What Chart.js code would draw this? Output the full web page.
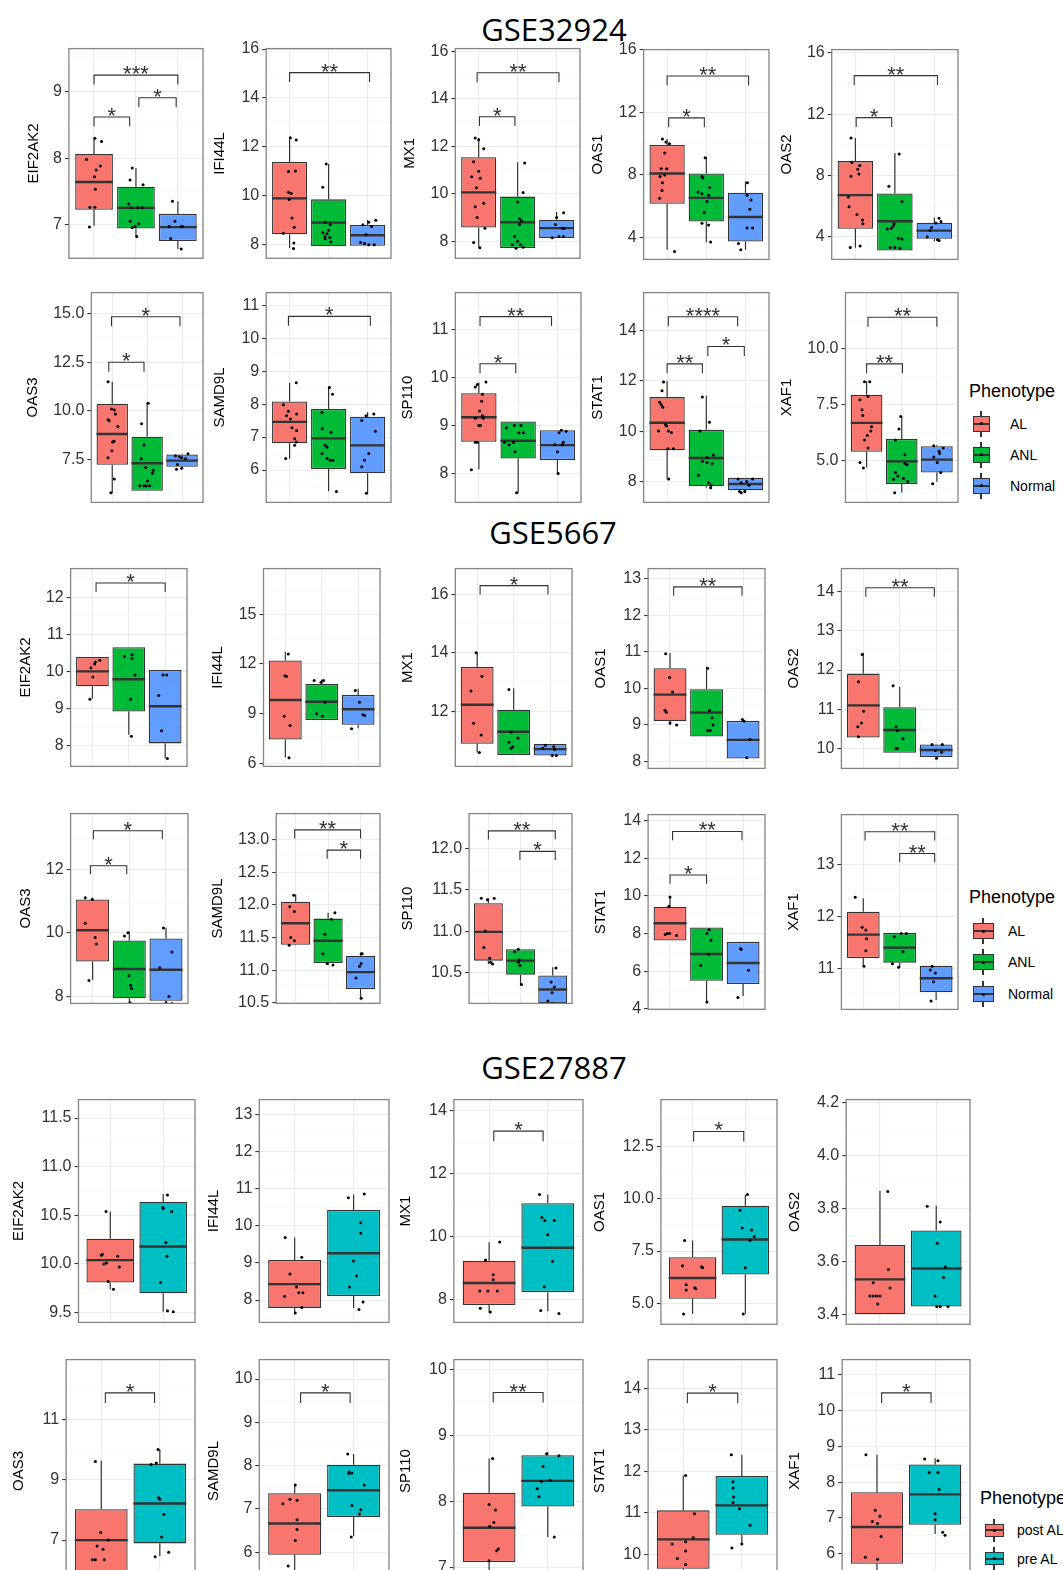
<!DOCTYPE html>
<html>
<head>
<meta charset="utf-8">
<script src="https://cdn.jsdelivr.net/npm/chart.js@4.4.1/dist/chart.umd.min.js"></script>
<style>
html, body { margin: 0; padding: 0; background: #fff; overflow: hidden; }
body { width: 1063px; height: 1570px; position: relative; font-family: "Liberation Sans", Arial, sans-serif; }
.panel { position: absolute; }
.panel canvas { display: block; }
.sec-title { position: absolute; font-family: "Open Sans", sans-serif; font-size: 31px; color: #000; transform: translate(-50%, -50%); white-space: nowrap; line-height: 1; }
.leg-title { position: absolute; font-size: 18px; color: #000; transform: translateY(-50%); white-space: nowrap; line-height: 1; }
.leg-label { position: absolute; font-size: 14px; color: #000; transform: translateY(-50%); white-space: nowrap; line-height: 1; }
.key { position: absolute; }
.key .wh { position: absolute; left: 50%; top: 0; bottom: 0; width: 1.2px; margin-left: -0.6px; background: #333; }
.key .bx { position: absolute; left: 0; right: 0; box-sizing: border-box; border: 1.2px solid #333; }
.key .md { position: absolute; left: 0; right: 0; height: 2px; margin-top: -1px; background: #333; }
.key .dt { position: absolute; left: 50%; width: 3px; height: 3px; margin: -1.5px 0 0 -1.5px; border-radius: 50%; background: #000; }
</style>
</head>
<body>
<script>
// ---------- GSE32924 ----------
const groups32924 = ['AL', 'ANL', 'Normal'];
const genes32924 = ['EIF2AK2', 'IFI44L', 'MX1', 'OAS1', 'OAS2', 'OAS3', 'SAMD9L', 'SP110', 'STAT1', 'XAF1'];
const ticks32924 = [
  ['7', '8', '9'], ['8', '10', '12', '14', '16'], ['8', '10', '12', '14', '16'], ['4', '8', '12', '16'], ['4', '8', '12', '16'],
  ['7.5', '10.0', '12.5', '15.0'], ['6', '7', '8', '9', '10', '11'], ['8', '9', '10', '11'], ['8', '10', '12', '14'], ['5.0', '7.5', '10.0']
];
const ranges32924 = [
  [6.49, 9.65], [7.45, 16.02], [7.28, 16.12], [2.59, 16.02], [2.52, 16.22],
  [5.3, 16.09], [5.02, 11.38], [7.4, 11.76], [7.17, 15.5], [3.12, 12.48]
];
// [lower whisker, Q1, median, Q3, upper whisker] per group
const boxes32924 = [
  [[6.98, 7.22, 7.64, 8.06, 8.30], [6.81, 6.94, 7.25, 7.57, 7.85], [6.63, 6.75, 6.96, 7.16, 7.35]],
  [[7.87, 8.43, 9.90, 11.39, 12.38], [7.94, 7.94, 8.91, 9.86, 11.30], [7.96, 7.96, 8.39, 8.81, 9.02]],
  [[7.74, 8.58, 10.06, 11.54, 12.35], [7.71, 7.71, 8.80, 9.88, 11.33], [8.14, 8.14, 8.55, 8.91, 9.23]],
  [[3.21, 6.15, 8.09, 9.91, 10.29], [3.69, 5.01, 6.53, 8.09, 9.14], [3.21, 3.74, 5.30, 6.86, 7.60]],
  [[3.28, 4.52, 6.72, 8.94, 10.45], [3.10, 3.10, 5.01, 6.83, 9.46], [3.71, 3.87, 4.40, 4.92, 5.26]],
  [[5.77, 7.24, 8.82, 10.37, 11.50], [5.90, 5.90, 7.31, 8.68, 10.45], [7.05, 7.13, 7.45, 7.76, 7.80]],
  [[6.34, 6.81, 7.46, 8.08, 8.65], [5.36, 6.03, 6.96, 7.85, 8.53], [5.30, 5.90, 6.75, 7.62, 7.75]],
  [[8.09, 8.66, 9.17, 9.67, 9.89], [7.59, 8.31, 8.68, 9.08, 9.08], [7.97, 8.28, 8.59, 8.90, 8.90]],
  [[8.08, 9.24, 10.33, 11.35, 11.99], [7.75, 7.81, 8.93, 10.05, 11.41], [7.55, 7.65, 7.90, 8.15, 8.15]],
  [[4.68, 5.38, 6.67, 7.92, 8.53], [3.56, 3.94, 4.95, 5.95, 6.97], [4.04, 4.45, 5.03, 5.63, 5.68]]
];
// jittered samples: [offset from group centre, value]
const points32924 = [
  [[[0.02, 8.30], [0.18, 8.25], [-0.18, 7.98], [0.15, 7.88], [0.05, 7.82], [0.01, 7.72], [0.03, 7.53], [-0.10, 7.26], [0.02, 7.26], [-0.11, 6.96]],
   [[-0.09, 7.85], [-0.14, 7.67], [0.17, 7.60], [-0.17, 7.31], [-0.11, 7.25], [0.04, 7.25], [0.15, 7.25], [-0.14, 7.05], [0.07, 7.01], [-0.02, 6.97], [-0.09, 6.95], [0.02, 6.82]],
   [[-0.13, 7.35], [-0.07, 7.05], [-0.21, 6.97], [0.08, 6.97], [0.11, 6.97], [-0.17, 6.79], [0.08, 6.63]]],
  [[[0.02, 12.38], [0.17, 12.28], [-0.03, 11.0], [0.15, 11.02], [-0.03, 10.15], [0.04, 10.1], [-0.01, 9.85], [0.06, 9.1], [0.12, 8.72], [-0.16, 8.47], [0.11, 8.08], [0.10, 7.85]],
   [[-0.06, 11.3], [-0.15, 10.35], [-0.09, 8.92], [0.04, 8.82], [0.0, 8.6], [-0.15, 8.5], [-0.04, 8.45], [-0.10, 8.35], [0.03, 8.3], [-0.09, 8.25], [0.06, 8.12]],
   [[0.21, 9.0], [0.03, 8.92], [-0.12, 8.82], [0.10, 8.75], [-0.04, 8.42], [-0.18, 8.1], [-0.08, 8.05], [0.03, 8.0], [0.17, 8.0]]],
  [[[-0.09, 12.35], [0.0, 12.28], [0.13, 11.9], [-0.13, 11.35], [0.0, 10.95], [-0.18, 10.72], [0.04, 10.65], [-0.06, 10.25], [0.13, 9.6], [-0.09, 9.45], [-0.04, 9.0], [0.16, 8.55], [-0.13, 7.95], [0.03, 7.72]],
   [[0.18, 11.3], [0.14, 10.05], [0.0, 9.65], [0.05, 8.95], [0.10, 8.85], [0.05, 8.7], [-0.08, 8.2], [0.0, 8.0], [-0.14, 7.85], [0.07, 7.85], [0.14, 7.75], [-0.04, 7.7]],
   [[0.18, 9.2], [0.0, 9.0], [-0.03, 8.7], [0.15, 8.55], [0.19, 8.55], [-0.11, 8.15], [0.06, 8.2], [0.18, 8.2]]],
  [[[-0.12, 10.3], [-0.03, 10.1], [0.06, 10.0], [-0.06, 9.4], [-0.15, 8.4], [-0.01, 8.4], [-0.06, 8.0], [-0.18, 7.9], [-0.12, 7.5], [-0.13, 7.0], [-0.19, 6.5], [0.19, 3.1]],
   [[-0.03, 9.1], [-0.11, 7.9], [-0.09, 7.8], [0.09, 7.2], [-0.21, 6.9], [-0.11, 6.8], [0.06, 6.7], [0.02, 6.3], [-0.05, 5.6], [-0.11, 4.9], [0.06, 4.8], [0.11, 3.7]],
   [[0.05, 7.5], [0.04, 6.7], [0.14, 6.4], [0.11, 5.8], [0.04, 4.6], [0.18, 4.6], [-0.18, 3.6], [-0.12, 3.2]]],
  [[[-0.11, 10.45], [-0.09, 8.85], [0.11, 8.65], [0.06, 8.4], [0.09, 8.1], [-0.11, 7.95], [-0.18, 6.6], [-0.16, 5.95], [0.04, 5.45], [0.18, 5.1], [0.19, 4.85], [0.12, 3.4], [-0.13, 3.3]],
   [[0.11, 9.4], [-0.15, 7.3], [0.18, 6.3], [-0.02, 4.85], [-0.04, 4.7], [-0.09, 4.55], [-0.19, 4.5], [0.09, 3.9], [0.18, 3.85], [-0.12, 3.3], [0.0, 3.3], [0.13, 3.25]],
   [[0.12, 5.2], [0.17, 5.0], [-0.07, 4.6], [-0.11, 4.4], [-0.18, 4.0], [0.08, 3.8], [0.12, 3.75], [0.04, 4.9]]],
  [[[-0.12, 11.5], [-0.02, 10.1], [0.06, 10.05], [0.09, 9.85], [-0.12, 9.55], [-0.09, 9.5], [0.16, 9.2], [0.05, 8.45], [0.01, 8.4], [-0.01, 7.95], [-0.12, 7.6], [0.06, 6.5], [-0.04, 5.8]],
   [[0.03, 10.4], [-0.16, 9.35], [-0.09, 8.25], [-0.17, 7.55], [-0.04, 7.1], [0.17, 6.95], [0.15, 6.8], [0.01, 6.4], [-0.21, 6.15], [-0.09, 6.15], [0.07, 6.15], [-0.03, 6.15]],
   [[0.17, 7.8], [-0.19, 7.7], [-0.08, 7.65], [-0.01, 7.6], [0.10, 7.55], [-0.13, 7.25], [-0.01, 7.05], [-0.16, 7.0]]],
  [[[0.17, 8.65], [-0.16, 7.98], [-0.03, 7.78], [0.18, 7.7], [-0.08, 7.65], [0.02, 7.55], [0.06, 7.28], [0.18, 7.2], [0.13, 6.95], [0.17, 6.85], [0.13, 6.75], [-0.10, 6.35]],
   [[0.02, 8.5], [0.10, 8.3], [-0.17, 7.75], [-0.16, 7.25], [0.06, 7.15], [-0.09, 6.75], [-0.04, 6.7], [-0.17, 6.5], [-0.04, 6.35], [0.04, 6.3], [0.11, 6.3], [0.20, 5.35]],
   [[0.16, 7.7], [-0.04, 7.65], [-0.15, 7.5], [0.20, 7.18], [0.03, 6.5], [-0.08, 6.3], [-0.15, 6.1], [-0.03, 5.3]]],
  [[[0.18, 9.9], [-0.04, 9.85], [-0.09, 9.8], [0.09, 9.65], [0.07, 9.5], [0.02, 9.3], [0.09, 9.2], [-0.09, 9.15], [0.11, 9.15], [0.0, 9.0], [0.04, 9.0], [-0.04, 8.65], [-0.09, 8.65], [-0.19, 8.08]],
   [[-0.10, 9.0], [0.07, 9.0], [-0.30, 8.95], [0.02, 8.85], [0.14, 8.85], [-0.35, 8.65], [-0.12, 8.65], [-0.23, 8.6], [-0.08, 8.45], [-0.04, 7.6]],
   [[0.10, 8.9], [0.22, 8.88], [0.04, 8.85], [0.15, 8.65], [-0.07, 8.6], [0.12, 8.6], [0.0, 8.45], [0.02, 8.0]]],
  [[[-0.09, 11.95], [-0.13, 11.6], [-0.19, 11.15], [-0.15, 11.05], [-0.11, 10.95], [-0.04, 10.25], [-0.01, 10.2], [-0.22, 10.0], [0.03, 10.0], [0.11, 9.95], [0.02, 9.3], [0.16, 9.3], [0.04, 8.1]],
   [[-0.10, 11.35], [0.08, 10.35], [-0.16, 10.0], [0.18, 9.05], [0.02, 8.95], [0.02, 8.75], [0.15, 8.7], [-0.10, 8.8], [-0.20, 8.25], [0.06, 7.95], [0.12, 7.85], [0.11, 7.75]],
   [[-0.19, 8.1], [0.18, 8.1], [0.03, 8.0], [-0.11, 7.95], [0.09, 7.85], [-0.15, 7.6], [-0.11, 7.55], [-0.02, 7.6]]],
  [[[-0.06, 8.5], [0.09, 8.5], [0.04, 7.85], [-0.19, 7.7], [-0.13, 7.25], [-0.11, 7.0], [0.14, 6.5], [0.12, 6.3], [0.02, 6.1], [-0.06, 5.9], [0.04, 5.55], [-0.19, 4.9], [-0.09, 4.65]],
   [[-0.03, 6.95], [-0.08, 6.4], [-0.18, 5.9], [0.09, 5.25], [0.09, 4.85], [0.15, 4.8], [-0.18, 4.45], [-0.11, 4.3], [0.05, 4.2], [-0.23, 4.15], [0.17, 4.05], [-0.20, 3.55]],
   [[-0.09, 5.65], [0.18, 5.55], [0.06, 5.4], [0.08, 5.3], [-0.09, 5.15], [0.01, 4.9], [0.11, 4.45], [-0.12, 3.95]]]
];
// significance brackets: [from group, to group, height, label]
const signif32924 = [
  [[1, 3, 9.25, '***'], [1, 1.85, 8.62, '*'], [2.07, 2.96, 8.91, '*']],
  [[1, 3.05, 15.04, '**']],
  [[0.96, 3.06, 15.1, '**'], [1.02, 1.93, 13.25, '*']],
  [[1, 3.08, 14.33, '**'], [1.04, 1.95, 11.65, '*']],
  [[0.97, 3.08, 14.52, '**'], [1.02, 1.92, 11.78, '*']],
  [[0.98, 2.94, 14.85, '*'], [0.9, 1.91, 12.51, '*']],
  [[0.97, 3.07, 10.66, '*']],
  [[1.03, 2.85, 11.26, '**'], [1.03, 1.94, 10.28, '*']],
  [[1.03, 2.8, 14.54, '****'], [1.0, 1.9, 12.67, '**'], [2.04, 2.97, 13.36, '*']],
  [[1.04, 3.0, 11.38, '**'], [1.0, 2.02, 9.3, '**']]
];

// ---------- GSE5667 ----------
const groups5667 = ['AL', 'ANL', 'Normal'];
const genes5667 = ['EIF2AK2', 'IFI44L', 'MX1', 'OAS1', 'OAS2', 'OAS3', 'SAMD9L', 'SP110', 'STAT1', 'XAF1'];
const ticks5667 = [
  ['8', '9', '10', '11', '12'], ['6', '9', '12', '15'], ['12', '14', '16'], ['8', '9', '10', '11', '12', '13'], ['10', '11', '12', '13', '14'],
  ['8', '10', '12'], ['10.5', '11.0', '11.5', '12.0', '12.5', '13.0'], ['10.5', '11.0', '11.5', '12.0'], ['4', '6', '8', '10', '12', '14'], ['11', '12', '13']
];
const ranges5667 = [
  [7.44, 12.77], [5.83, 17.75], [10.13, 16.87], [7.81, 13.28], [9.49, 14.59],
  [7.78, 13.75], [10.49, 13.4], [10.12, 12.43], [3.96, 14.34], [10.22, 13.97]
];
const boxes5667 = [
  [[9.26, 9.6, 10.0, 10.39, 10.39], [8.29, 8.92, 9.79, 10.65, 10.65], [7.66, 8.06, 9.06, 10.04, 10.04]],
  [[6.37, 7.45, 9.83, 12.21, 12.73], [8.63, 8.63, 9.73, 10.8, 11.07], [8.13, 8.34, 9.27, 10.14, 10.51]],
  [[10.6, 10.9, 12.23, 13.52, 14.02], [10.52, 10.52, 11.31, 12.06, 12.79], [10.5, 10.5, 10.72, 10.89, 10.89]],
  [[9.0, 9.11, 9.83, 10.55, 10.97], [8.68, 8.68, 9.34, 9.98, 10.59], [8.08, 8.08, 8.59, 9.11, 9.15]],
  [[10.28, 10.28, 11.1, 11.91, 12.44], [9.89, 9.89, 10.47, 11.05, 11.57], [9.78, 9.78, 9.96, 10.1, 10.12]],
  [[8.52, 9.1, 10.08, 11.05, 11.1], [7.78, 7.94, 8.86, 9.76, 10.05], [7.78, 7.86, 8.84, 9.82, 10.16]],
  [[11.38, 11.39, 11.72, 12.05, 12.16], [11.08, 11.11, 11.45, 11.79, 11.88], [10.58, 10.71, 10.97, 11.22, 11.25]],
  [[10.6, 10.64, 10.99, 11.34, 11.4], [10.34, 10.47, 10.64, 10.78, 10.78], [10.12, 10.12, 10.29, 10.46, 10.56]],
  [[7.63, 7.63, 8.55, 9.43, 9.95], [4.41, 5.49, 6.91, 8.33, 8.33], [4.68, 5.31, 6.43, 7.56, 7.56]],
  [[11.06, 11.21, 11.66, 12.1, 12.36], [11.03, 11.12, 11.41, 11.69, 11.69], [10.4, 10.55, 10.82, 11.06, 11.06]]
];
const points5667 = [
  [[[0.20, 10.3], [0.08, 10.25], [0.06, 10.2], [-0.04, 10.1], [0.01, 9.85], [-0.07, 9.25]],
   [[0.09, 10.45], [-0.12, 10.4], [0.09, 10.35], [0.17, 9.9], [0.05, 9.25], [0.07, 8.25]],
   [[-0.06, 9.9], [0.04, 9.9], [-0.18, 9.35], [-0.10, 8.4], [0.06, 7.65]]],
  [[[0.08, 12.6], [-0.01, 11.3], [0.03, 11.25], [-0.03, 8.85], [0.13, 8.3], [0.10, 6.35]],
   [[-0.21, 11.0], [0.05, 11.0], [-0.02, 10.9], [0.09, 9.7], [-0.14, 9.0], [0.02, 8.85]],
   [[-0.08, 10.4], [0.04, 9.7], [0.13, 8.95], [0.18, 8.9], [-0.18, 8.1]]],
  [[[-0.03, 14.0], [0.13, 13.2], [-0.17, 12.7], [-0.10, 11.6], [0.11, 11.2], [0.06, 10.6]],
   [[-0.13, 12.75], [-0.07, 11.3], [0.12, 11.1], [-0.13, 10.95], [-0.02, 10.8], [-0.07, 10.75]],
   [[-0.13, 10.85], [0.10, 10.8], [-0.20, 10.75], [0.13, 10.7], [0.06, 10.5], [0.17, 10.5]]],
  [[[-0.12, 10.95], [-0.01, 10.3], [0.07, 9.9], [-0.14, 9.4], [-0.10, 9.35], [0.0, 9.05], [0.18, 9.0]],
   [[0.03, 10.55], [0.08, 9.4], [0.15, 9.2], [0.18, 9.0], [0.03, 8.85], [0.10, 8.85]],
   [[-0.02, 9.15], [0.03, 9.1], [0.19, 8.6], [0.10, 8.1]]],
  [[[-0.03, 12.4], [-0.13, 11.7], [0.01, 10.95], [-0.05, 10.65], [-0.15, 10.55], [-0.13, 10.3]],
   [[-0.18, 11.6], [-0.10, 10.55], [-0.06, 10.45], [0.09, 10.25], [-0.10, 10.0], [-0.06, 10.0]],
   [[-0.11, 10.1], [0.17, 10.1], [-0.02, 9.95], [0.15, 9.9], [0.01, 9.75]]],
  [[[-0.20, 11.1], [-0.01, 11.05], [-0.20, 10.3], [0.07, 9.85], [0.10, 9.65], [-0.10, 8.5]],
   [[-0.04, 10.0], [-0.13, 9.9], [-0.01, 8.65], [0.04, 8.35], [0.06, 8.25], [0.02, 7.8]],
   [[-0.07, 10.15], [0.16, 9.4], [-0.17, 8.9], [0.08, 8.0], [0.0, 7.8], [0.16, 7.78]]],
  [[[-0.06, 12.15], [-0.18, 11.97], [-0.04, 11.9], [-0.15, 11.5], [-0.04, 11.45], [-0.20, 11.38]],
   [[0.21, 11.88], [0.10, 11.78], [-0.10, 11.55], [-0.16, 11.25], [-0.03, 11.1], [0.15, 11.08]],
   [[0.02, 11.25], [0.05, 11.25], [0.02, 11.1], [-0.03, 11.06], [-0.14, 10.88], [0.02, 10.57]]],
  [[[-0.22, 11.4], [0.18, 11.4], [-0.03, 11.38], [-0.10, 11.0], [-0.14, 10.8], [0.04, 10.67], [0.07, 10.62], [0.13, 10.6]],
   [[-0.07, 10.78], [-0.18, 10.75], [-0.04, 10.65], [-0.07, 10.62], [-0.02, 10.58], [0.03, 10.35]],
   [[0.10, 10.55], [-0.05, 10.38], [0.05, 10.32], [-0.02, 10.25], [-0.15, 10.15], [0.0, 10.12]]],
  [[[0.0, 9.95], [-0.03, 9.45], [-0.08, 8.0], [-0.01, 8.0], [-0.13, 7.95], [0.18, 7.9]],
   [[0.07, 8.2], [0.01, 8.0], [0.12, 7.65], [0.06, 6.9], [-0.16, 6.3], [0.01, 4.35]],
   [[-0.07, 7.2], [-0.05, 7.15], [0.15, 6.05], [-0.14, 4.6]]],
  [[[-0.22, 12.38], [-0.03, 11.8], [0.07, 11.75], [0.09, 11.58], [0.07, 11.35], [0.02, 11.05]],
   [[0.04, 11.68], [0.18, 11.68], [-0.15, 11.62], [0.09, 11.33], [-0.20, 11.1], [-0.03, 11.03]],
   [[-0.11, 11.05], [-0.16, 10.98], [-0.02, 10.92], [-0.07, 10.75], [-0.14, 10.38]]]
];
const signif5667 = [
  [[1.1, 3.0, 12.38, '*']],
  [],
  [[1.08, 2.94, 16.29, '*']],
  [[1.1, 2.97, 12.78, '**']],
  [[1.07, 2.95, 14.1, '**']],
  [[1.02, 2.9, 13.21, '*'], [0.94, 1.93, 12.11, '*']],
  [[0.97, 3.0, 13.15, '**'], [1.97, 3.0, 12.84, '*']],
  [[1.0, 3.08, 12.22, '**'], [1.98, 3.08, 11.97, '*']],
  [[1.07, 2.97, 13.44, '**'], [1.0, 2.0, 11.12, '*']],
  [[1.05, 2.96, 13.64, '**'], [2.0, 2.96, 13.22, '**']]
];

// ---------- GSE27887 ----------
const groups27887 = ['post AL', 'pre AL'];
const genes27887 = ['EIF2AK2', 'IFI44L', 'MX1', 'OAS1', 'OAS2', 'OAS3', 'SAMD9L', 'SP110', 'STAT1', 'XAF1'];
const ticks27887 = [
  ['9.5', '10.0', '10.5', '11.0', '11.5'], ['8', '9', '10', '11', '12', '13'], ['8', '10', '12', '14'], ['5.0', '7.5', '10.0', '12.5'], ['3.4', '3.6', '3.8', '4.0', '4.2'],
  ['7', '9', '11'], ['6', '7', '8', '9', '10'], ['7', '8', '9', '10'], ['10', '11', '12', '13', '14'], ['6', '7', '8', '9', '10', '11']
];
const ranges27887 = [
  [9.4, 11.69], [7.4, 13.39], [7.27, 14.34], [4.01, 14.72], [3.363, 4.213],
  [5.6, 12.97], [5.3, 10.45], [6.77, 10.15], [9.32, 14.7], [5.2, 11.43]
];
const boxes27887 = [
  [[9.74, 9.81, 10.04, 10.26, 10.54], [9.51, 9.7, 10.18, 10.64, 10.72]],
  [[7.66, 7.79, 8.43, 9.08, 9.68], [7.79, 8.11, 9.26, 10.42, 10.84]],
  [[7.58, 7.82, 8.52, 9.23, 9.81], [7.62, 8.23, 9.64, 11.05, 11.33]],
  [[4.51, 5.23, 6.22, 7.21, 8.01], [4.51, 6.38, 8.05, 9.66, 10.19]],
  [[3.4, 3.401, 3.533, 3.663, 3.867], [3.43, 3.43, 3.574, 3.718, 3.812]],
  [[5.5, 5.92, 7.0, 8.02, 9.63], [6.47, 6.89, 8.21, 9.53, 10.0]],
  [[5.52, 5.94, 6.66, 7.36, 7.56], [6.37, 6.81, 7.43, 8.02, 8.27]],
  [[6.87, 7.08, 7.6, 8.13, 8.65], [7.46, 7.92, 8.31, 8.7, 8.75]],
  [[9.53, 9.65, 10.36, 11.06, 11.9], [10.27, 10.47, 11.18, 11.89, 12.4]],
  [[5.44, 5.72, 6.75, 7.72, 8.77], [6.55, 6.81, 7.66, 8.5, 8.67]]
];
const points27887 = [
  [[[-0.08, 10.54], [-0.15, 10.1], [-0.17, 10.09], [0.14, 10.08], [-0.07, 10.01], [-0.12, 10.0], [0.17, 9.97], [-0.04, 9.82], [0.06, 9.74]],
   [[0.08, 10.71], [-0.01, 10.58], [0.0, 10.57], [0.16, 10.54], [0.05, 10.22], [0.07, 10.08], [-0.05, 9.81], [0.08, 9.52], [0.19, 9.51]]],
  [[[-0.16, 9.68], [0.12, 9.15], [-0.08, 8.7], [0.03, 8.35], [0.07, 8.2], [0.14, 8.2], [-0.17, 8.1], [0.12, 7.8], [0.01, 7.65]],
   [[0.18, 10.85], [-0.09, 10.75], [0.12, 10.08], [0.12, 9.8], [0.0, 9.05], [0.05, 8.65], [-0.07, 8.35], [0.16, 7.95], [0.09, 7.75]]],
  [[[0.18, 9.82], [-0.06, 9.25], [0.07, 8.78], [0.07, 8.62], [-0.16, 8.27], [-0.02, 8.27], [0.14, 8.27], [-0.15, 7.72], [0.02, 7.6]],
   [[-0.14, 11.33], [-0.10, 10.6], [-0.05, 10.5], [0.11, 10.5], [0.0, 10.05], [0.08, 9.2], [-0.06, 8.4], [-0.12, 7.65], [0.19, 7.55]]],
  [[[-0.15, 8.0], [-0.19, 6.8], [0.17, 6.75], [0.19, 6.7], [-0.12, 5.9], [0.04, 5.75], [0.06, 5.7], [-0.12, 5.65], [-0.17, 4.5]],
   [[0.04, 10.2], [-0.10, 9.45], [-0.06, 8.6], [0.12, 8.5], [0.17, 8.2], [0.09, 8.0], [0.0, 6.7], [-0.04, 4.5]]],
  [[[0.14, 3.865], [0.15, 3.57], [-0.12, 3.52], [0.18, 3.5], [-0.18, 3.47], [-0.12, 3.47], [-0.06, 3.47], [0.0, 3.47], [-0.04, 3.44]],
   [[-0.16, 3.81], [0.07, 3.75], [0.02, 3.67], [0.16, 3.58], [0.13, 3.54], [-0.02, 3.47], [0.01, 3.43], [0.07, 3.43], [0.21, 3.43]]],
  [[[-0.10, 9.6], [-0.01, 7.25], [0.12, 7.0], [-0.07, 6.8], [0.03, 6.7], [-0.15, 6.35], [-0.10, 6.35], [0.05, 6.35]],
   [[-0.03, 10.0], [-0.06, 9.55], [-0.15, 9.5], [-0.02, 8.4], [0.0, 8.35], [0.07, 7.85], [0.03, 7.1], [0.15, 6.6], [-0.08, 6.45]]],
  [[[0.01, 7.55], [-0.08, 7.22], [0.04, 7.2], [-0.20, 7.12], [0.04, 6.75], [0.04, 6.52], [0.01, 6.27], [-0.11, 5.68], [0.0, 5.5]],
   [[-0.10, 8.27], [-0.08, 7.85], [-0.03, 7.83], [-0.08, 7.82], [0.18, 7.55], [-0.03, 7.08], [0.12, 6.98], [0.10, 6.88], [-0.04, 6.35]]],
  [[[0.06, 8.65], [0.0, 7.95], [0.11, 7.87], [0.08, 7.68], [0.01, 7.62], [0.16, 7.28], [0.13, 7.25], [0.0, 7.1], [-0.16, 6.93]],
   [[-0.02, 8.72], [0.19, 8.69], [-0.08, 8.53], [-0.11, 8.3], [-0.18, 8.19], [-0.15, 8.07], [0.04, 8.32], [0.11, 7.46]]],
  [[[0.04, 11.9], [0.19, 10.98], [0.17, 10.4], [0.04, 10.3], [-0.19, 10.25], [0.04, 10.08], [-0.10, 9.9], [0.04, 9.75], [0.05, 9.55]],
   [[-0.18, 12.4], [-0.15, 11.75], [-0.15, 11.6], [-0.14, 11.38], [-0.15, 11.25], [-0.04, 11.1], [0.14, 10.7], [0.0, 10.25], [-0.17, 10.15]]],
  [[[-0.19, 8.77], [-0.03, 7.22], [0.05, 7.05], [-0.08, 6.9], [0.01, 6.85], [0.07, 6.48], [-0.20, 5.9], [0.01, 5.85], [-0.06, 5.45]],
   [[-0.18, 8.65], [0.05, 8.6], [-0.10, 8.27], [0.05, 8.27], [0.07, 7.8], [0.0, 7.12], [0.0, 6.95], [0.13, 6.6], [0.17, 6.52]]]
];
const signif27887 = [
  [], [], [[1.08, 1.92, 13.34, '*']], [[1.02, 1.97, 13.2, '*']], [],
  [[1.07, 1.91, 11.87, '*']], [[1.1, 1.94, 9.68, '*']], [[1.07, 1.92, 9.65, '**']], [[1.07, 1.93, 13.89, '*']], [[1.08, 1.93, 10.5, '*']]
];

// ---------- page layout (pixels): [plot left, plot top, plot right, plot bottom, y-title centre x] ----------
const layout32924 = [
  [68.9, 48.2, 203.9, 258.3, 34.4], [266.2, 48.2, 391.9, 258.3, 220.4], [455.3, 48.2, 580.9, 258.3, 409.8], [643.6, 48.5, 769.3, 259.7, 597.9], [831.7, 48.5, 958.1, 259.7, 786.6],
  [91.3, 292, 203.9, 503, 32.7], [266.2, 292, 391.9, 503, 220.4], [455.3, 292, 581.3, 503, 408.1], [643.6, 292, 769.3, 503, 597.9], [845.5, 292, 958.1, 503, 786.6]
];
const layout5667 = [
  [70.6, 567.6, 187.7, 766.6, 25.8], [263.5, 567.6, 380.6, 766.6, 218], [455.3, 567.6, 572.6, 766.6, 408.1], [648.1, 567.7, 765.2, 768.6, 601.4], [841.4, 567.7, 958.1, 768.6, 793.6],
  [70.6, 813.4, 188.4, 1003.5, 25.8], [276.2, 813.4, 380.6, 1003.5, 218], [469.1, 813.4, 572.6, 1003.5, 408.1], [648.1, 813.5, 765.2, 1010, 601.4], [841.4, 813.5, 958.1, 1010, 793.6]
];
const layout27887 = [
  [78.5, 1098.9, 195.6, 1322.7, 18.9], [259.3, 1098.9, 389.2, 1322.7, 213.5], [453.9, 1098.9, 583.4, 1322.7, 406.4], [660.9, 1099.3, 777.3, 1324.3, 600.3], [846.2, 1099.3, 970.9, 1324.3, 794.6],
  [66.1, 1358.9, 195.6, 1583, 18.9], [259.3, 1358.9, 389.2, 1583, 213.5], [453.9, 1358.9, 583.4, 1583, 406.4], [648.1, 1359.1, 777.3, 1583, 600.3], [842.1, 1359.1, 970.9, 1583, 794.6]
];
const titles = [['GSE32924', 554, 29], ['GSE5667', 553, 532], ['GSE27887', 554, 1067]];
const legends = [
  { top: 391, left: 969, keyX: 981, keyYs: [423.5, 454.7, 485.8], labelX: 1010, keyW: 17, keyH: 16 },
  { top: 897, left: 969, keyX: 983, keyYs: [931.3, 962.1, 994.3], labelX: 1008, keyW: 21, keyH: 16 },
  { top: 1498, left: 980, keyX: 994, keyYs: [1530.2, 1558.9], labelX: 1017, keyW: 19, keyH: 13 }
];

const COLORS3 = ['#F8766D', '#00BA38', '#619CFF'];
const COLORS2 = ['#F8766D', '#00BFC4'];
const FONT = '"Liberation Sans", Arial, sans-serif';
const FS = 15;
const TICK_FS = 16;
const PAD_V = 12;

Chart.defaults.font.family = FONT;

const sections = [
  { genes: genes32924, groups: groups32924, ticks: ticks32924, ranges: ranges32924, boxes: boxes32924, points: points32924, signif: signif32924, layout: layout32924, colors: COLORS3 },
  { genes: genes5667, groups: groups5667, ticks: ticks5667, ranges: ranges5667, boxes: boxes5667, points: points5667, signif: signif5667, layout: layout5667, colors: COLORS3 },
  { genes: genes27887, groups: groups27887, ticks: ticks27887, ranges: ranges27887, boxes: boxes27887, points: points27887, signif: signif27887, layout: layout27887, colors: COLORS2 }
];

function yTicks(labels, min, max) {
  const vals = labels.map(Number);
  const step = vals[1] - vals[0];
  const out = vals.map((v, k) => ({ value: v, text: labels[k], minor: false }));
  for (let v = vals[0] - step / 2; v <= max + 1e-9; v += step) {
    if (v >= min - 1e-9) out.push({ value: v, text: '', minor: true });
  }
  return out.sort((a, b) => a.value - b.value);
}

const starPlugin = {
  id: 'stars',
  afterDatasetsDraw(chart, args, opts) {
    const { ctx, scales: { x, y } } = chart;
    ctx.save();
    ctx.font = '22px ' + FONT;
    ctx.fillStyle = '#333';
    ctx.textAlign = 'center';
    ctx.textBaseline = 'alphabetic';
    opts.marks.forEach(([x1, x2, yv, label]) => {
      ctx.fillText(label, x.getPixelForValue((x1 + x2) / 2), y.getPixelForValue(yv) + 6);
    });
    ctx.restore();
  }
};

const framePlugin = {
  id: 'frame',
  afterDraw(chart) {
    const { ctx, chartArea: a } = chart;
    ctx.save();
    ctx.strokeStyle = '#858585';
    ctx.lineWidth = 1.3;
    ctx.strokeRect(a.left, a.top, a.right - a.left, a.bottom - a.top);
    ctx.restore();
  }
};

function drawPanel(sec, i) {
  const [pl, pt, pr, pb, tx] = sec.layout[i];
  const n = sec.groups.length;
  const [ymin, ymax] = sec.ranges[i];
  const canvasLeft = Math.round(tx - FS * 0.6);
  const canvasTop = Math.round(pt - PAD_V);
  const axisW = pl - canvasLeft;
  const cw = Math.ceil(pr - canvasLeft + 3);
  const ch = Math.ceil(pb - canvasTop + PAD_V);
  const wrap = document.createElement('div');
  wrap.className = 'panel';
  wrap.style.left = canvasLeft + 'px';
  wrap.style.top = canvasTop + 'px';
  const canvas = document.createElement('canvas');
  canvas.width = cw;
  canvas.height = ch;
  canvas.style.width = cw + 'px';
  canvas.style.height = ch + 'px';
  wrap.appendChild(canvas);
  document.body.appendChild(wrap);

  const boxes = sec.boxes[i];
  const boxData = boxes.map((b, g) => ({ x: g + 1, y: [b[1], b[3]] }));
  const medData = [];
  const whiskData = [];
  boxes.forEach((b, g) => {
    const c = g + 1;
    medData.push({ x: c - 0.45, y: b[2] }, { x: c + 0.45, y: b[2] }, { x: c + 0.5, y: null });
    whiskData.push({ x: c, y: b[4] }, { x: c, y: b[3] }, { x: c, y: null }, { x: c, y: b[1] }, { x: c, y: b[0] }, { x: c, y: null });
  });
  const ptData = [];
  sec.points[i].forEach((grp, g) => grp.forEach(([dx, v]) => ptData.push({ x: g + 1 + dx, y: v })));
  const tip = 0.045 * (ymax - ymin);
  const brData = [];
  sec.signif[i].forEach(([x1, x2, yv]) => {
    brData.push({ x: x1, y: yv - tip }, { x: x1, y: yv }, { x: x2, y: yv }, { x: x2, y: yv - tip }, { x: x2, y: null });
  });
  const tickList = yTicks(sec.ticks[i], ymin, ymax);

  new Chart(canvas, {
    type: 'bar',
    data: {
      datasets: [
        { type: 'scatter', data: ptData, pointRadius: 1.5, pointBackgroundColor: '#000', pointBorderWidth: 0, order: 0 },
        { type: 'line', data: medData, borderColor: '#333', borderWidth: 2.4, pointRadius: 0, spanGaps: false, order: 1 },
        { type: 'bar', data: boxData, backgroundColor: sec.colors, borderColor: '#333', borderWidth: 1.3, borderSkipped: false,
          barPercentage: 0.9, categoryPercentage: 1, order: 2 },
        { type: 'line', data: whiskData, borderColor: '#333', borderWidth: 1.2, pointRadius: 0, spanGaps: false, order: 3 },
        { type: 'line', data: brData, borderColor: '#333', borderWidth: 1.1, pointRadius: 0, spanGaps: false, order: 3 }
      ]
    },
    options: {
      responsive: false,
      animation: false,
      events: [],
      layout: { padding: { left: 0, top: pt - canvasTop, right: cw - (pr - canvasLeft), bottom: ch - (pb - canvasTop) } },
      plugins: { legend: { display: false }, tooltip: { enabled: false }, stars: { marks: sec.signif[i] } },
      scales: {
        x: {
          type: 'linear', position: 'bottom', min: 0.4, max: n + 0.6, offset: false,
          afterBuildTicks: s => { s.ticks = sec.groups.map((g, k) => ({ value: k + 1 })); },
          ticks: { display: false },
          grid: { color: '#EBEBEB', lineWidth: 1.1, drawTicks: false, offset: false },
          border: { display: false }
        },
        y: {
          type: 'linear', position: 'left', min: ymin, max: ymax, beginAtZero: false,
          afterBuildTicks: s => { s.ticks = tickList.map(t => Object.assign({}, t)); },
          afterFit: s => { s.width = axisW; },
          ticks: {
            autoSkip: false, color: '#333', padding: 3, font: { size: TICK_FS },
            callback: (v, k, ts) => (ts[k] && !ts[k].minor ? ts[k].text : '')
          },
          grid: {
            color: c => (c.tick && c.tick.minor ? '#F5F5F5' : '#EBEBEB'),
            lineWidth: c => (c.tick && c.tick.minor ? 0.7 : 1.1),
            tickColor: c => (c.tick && c.tick.minor ? 'rgba(0,0,0,0)' : '#333'),
            tickLength: 4, tickWidth: 1.1
          },
          border: { display: false },
          title: { display: true, text: sec.genes[i], color: '#000', font: { size: FS }, padding: 0 }
        }
      }
    },
    plugins: [starPlugin, framePlugin]
  });
}

function addKey(host, x, y, w, h, color) {
  const k = document.createElement('div');
  k.className = 'key';
  k.style.left = (x - w / 2) + 'px';
  k.style.top = (y - h / 2 - 5) + 'px';
  k.style.width = w + 'px';
  k.style.height = (h + 10) + 'px';
  k.innerHTML = '<div class="wh"></div><div class="bx" style="top:5px;height:' + h + 'px;background:' + color +
    '"></div><div class="md" style="top:' + (5 + h / 2) + 'px"></div><div class="dt" style="top:' + (5 + h / 2) + 'px"></div>';
  host.appendChild(k);
}

function drawLegend(sec, pos) {
  const t = document.createElement('div');
  t.className = 'leg-title';
  t.style.left = pos.left + 'px';
  t.style.top = pos.top + 'px';
  t.textContent = 'Phenotype';
  document.body.appendChild(t);
  sec.groups.forEach((g, k) => {
    addKey(document.body, pos.keyX, pos.keyYs[k], pos.keyW, pos.keyH, sec.colors[k]);
    const l = document.createElement('div');
    l.className = 'leg-label';
    l.style.left = pos.labelX + 'px';
    l.style.top = pos.keyYs[k] + 'px';
    l.textContent = g;
    document.body.appendChild(l);
  });
}

titles.forEach(([text, x, y]) => {
  const d = document.createElement('div');
  d.className = 'sec-title';
  d.style.left = x + 'px';
  d.style.top = y + 'px';
  d.textContent = text;
  document.body.appendChild(d);
});

sections.forEach((sec, s) => {
  sec.genes.forEach((g, i) => drawPanel(sec, i));
  drawLegend(sec, legends[s]);
});
</script>
</body>
</html>
